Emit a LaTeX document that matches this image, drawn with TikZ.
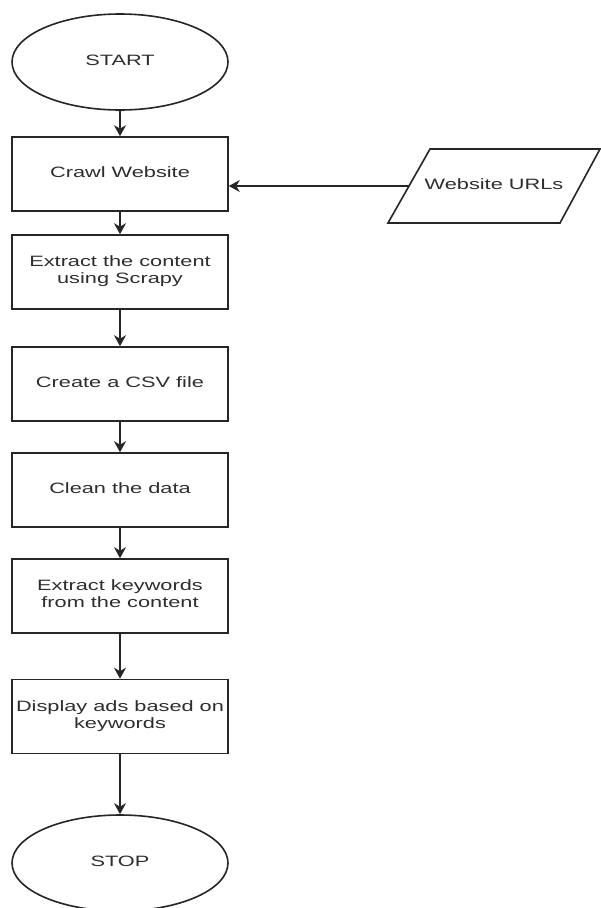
\documentclass[tikz,border=0pt]{standalone}
\usepackage{fontspec}
\setmainfont{Liberation Sans}
\usetikzlibrary{arrows.meta,shapes.geometric,calc}
\definecolor{ln}{HTML}{262626}
\definecolor{tx}{HTML}{2E2E2E}
\newcommand{\wtxt}[1]{\scalebox{1.45}[1]{\begin{tabular}{@{}c@{}}#1\end{tabular}}}
\begin{document}
\begin{tikzpicture}[x=1pt,y=-1pt,
  every node/.style={text=tx,font=\fontsize{15}{17}\selectfont},
  term/.style={ellipse,draw=ln,line width=1.6pt,minimum width=216pt,minimum height=96pt,inner sep=0pt},
  procbox/.style={rectangle,draw=ln,line width=1.6pt,minimum width=216pt,minimum height=74pt,inner sep=0pt},
  flow/.style={draw=ln,line width=1.6pt,-{Stealth[length=11pt,width=12pt,inset=3.5pt]}}]
\useasboundingbox[fill=white] (0,0) rectangle (601,908);

\node[term] (start) at (120,62) {\wtxt{START}};
\node[procbox] (crawl) at (120,174) {\wtxt{Crawl Website}};
\node[procbox] (extract) at (120,272) {\wtxt{Extract the content\\using Scrapy}};
\node[procbox] (csv) at (120,384) {\wtxt{Create a CSV file}};
\node[procbox] (clean) at (120,490) {\wtxt{Clean the data}};
\node[procbox] (kw) at (120,596) {\wtxt{Extract keywords\\from the content}};
\node[procbox] (ads) at (120,716.5) {\wtxt{Display ads based on\\keywords}};
\node[term] (stop) at (120,863) {\wtxt{STOP}};

\node (url) at (494,186) {\wtxt{Website URLs}};
\draw[ln,line width=1.6pt] (388,223) -- (430,149) -- (600,149) -- (560,223) -- cycle;
\coordinate (urlL) at (409,186);

\draw[flow] (start) -- (crawl);
\draw[flow] (crawl) -- (extract);
\draw[flow] (extract) -- (csv);
\draw[flow] (csv) -- (clean);
\draw[flow] (clean) -- (kw);
\draw[flow] (kw) -- (ads);
\draw[flow] (ads) -- (stop);
\draw[flow] (urlL) -- (urlL -| crawl.east);
\end{tikzpicture}
\end{document}
